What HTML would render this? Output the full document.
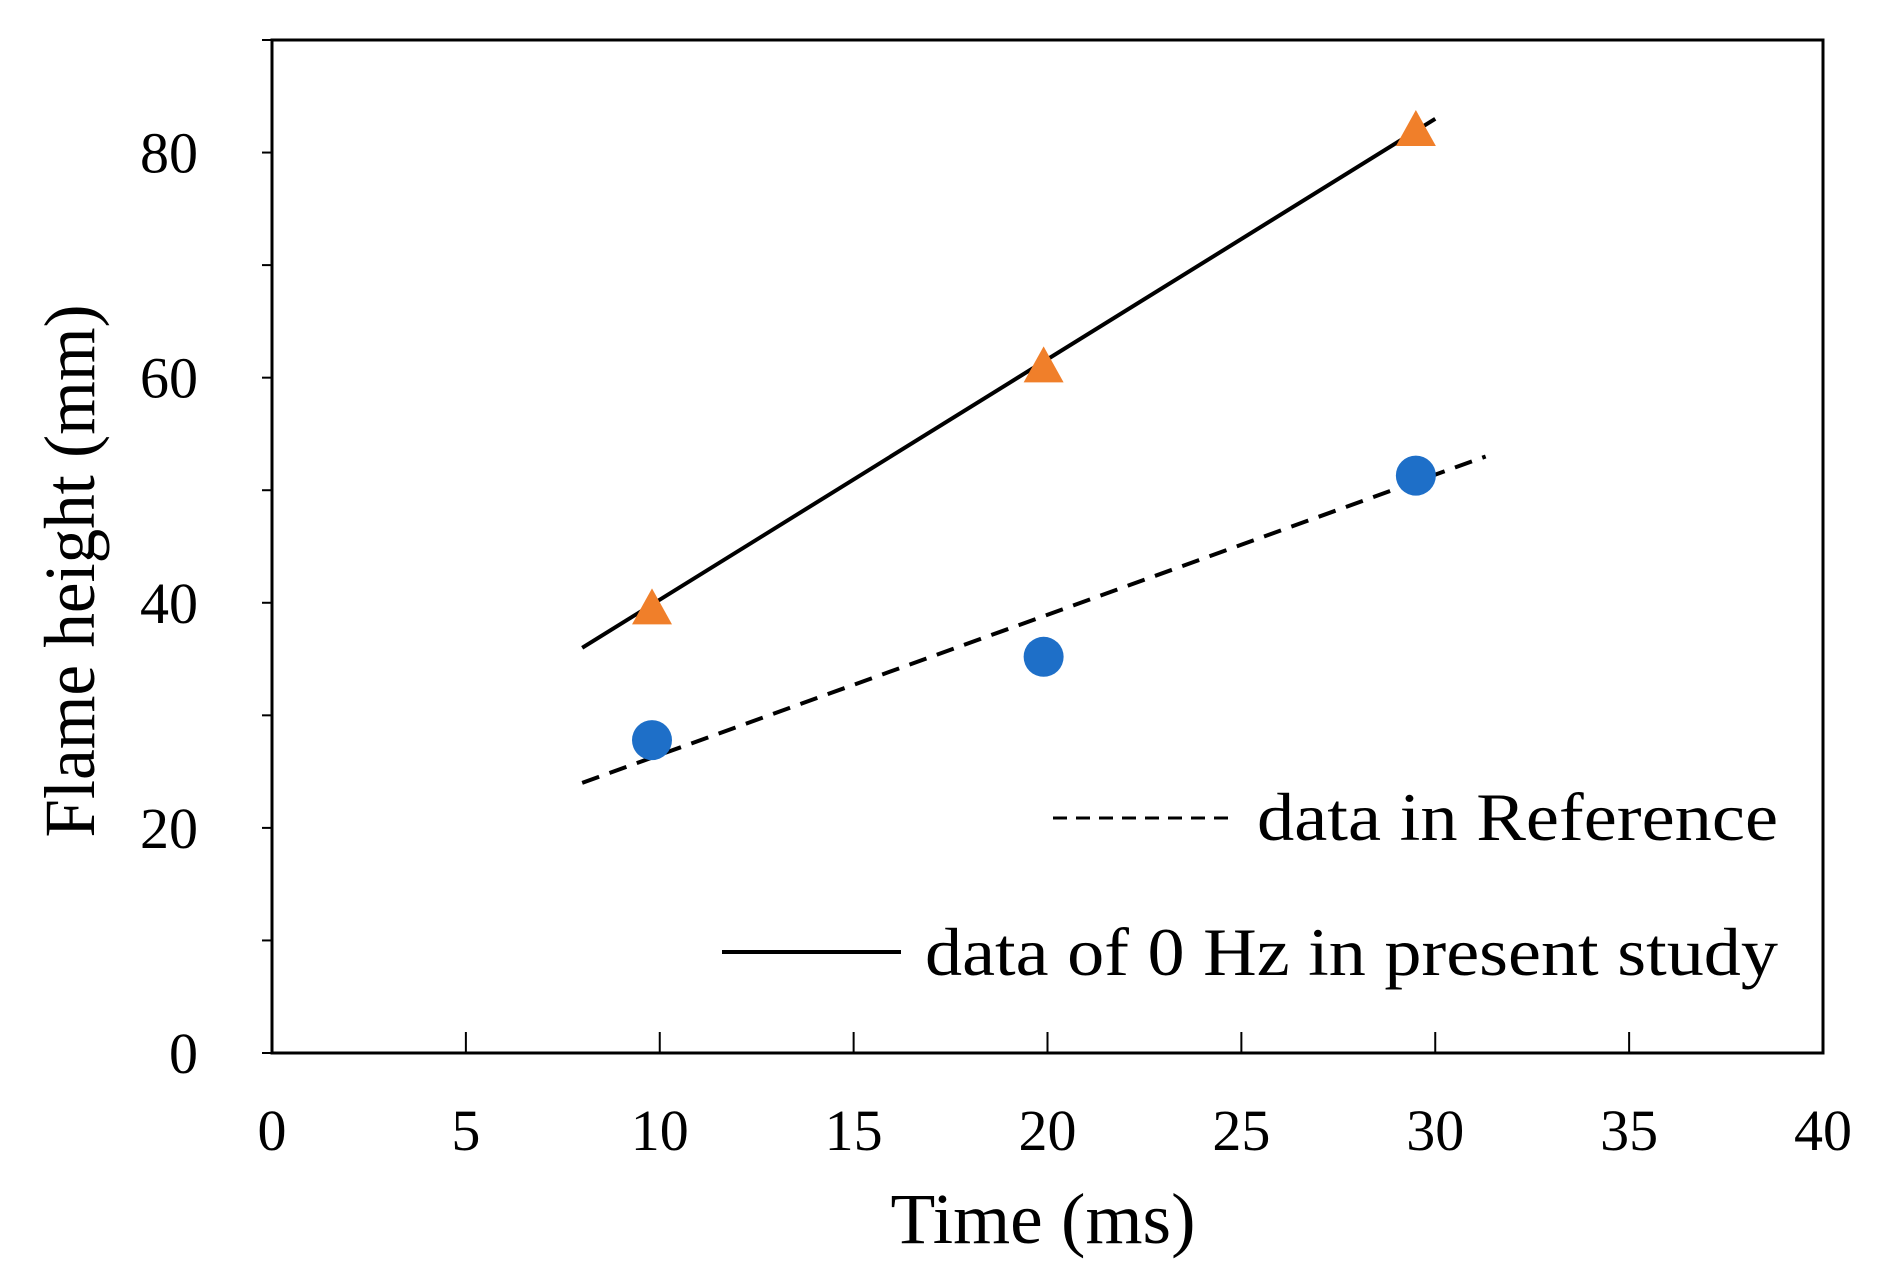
<!DOCTYPE html>
<html><head><meta charset="utf-8"><style>
html,body{margin:0;padding:0;background:#fff;}
svg{display:block;font-family:"Liberation Serif",serif;}
</style></head><body>
<svg id="chart" width="1877" height="1270" viewBox="0 0 1877 1270"></svg>
<script>
const xTicks=[0,5,10,15,20,25,30,35,40];
const yTicks=[0,10,20,30,40,50,60,70,80,90];
const yLabels=[0,20,40,60,80];
const presentX=[9.8,19.9,29.5];
const presentY=[39.5,61,82];
const refX=[9.8,19.9,29.5];
const refY=[27.8,35.2,51.3];
const solidFitX=[8,30];
const solidFitY=[36,83];
const dashedFitX=[8,31.3];
const dashedFitY=[24,53];

const L=272,R=1823,T=40,B=1053,XMAX=40,YMAX=90;
const sx=v=>L+(R-L)*v/XMAX;
const sy=v=>B-(B-T)*v/YMAX;
const NS="http://www.w3.org/2000/svg";
const svg=document.getElementById('chart');
function mk(tag,attrs,parent){const e=document.createElementNS(NS,tag);for(const k in attrs)e.setAttribute(k,attrs[k]);(parent||svg).appendChild(e);return e;}

const frame=mk('rect',{x:L,y:T,width:R-L,height:B-T,fill:'none',stroke:'#000','stroke-width':3});



xTicks.forEach(v=>{
  const t=mk('line',{x1:sx(v),x2:sx(v),y1:B,y2:B-21,stroke:'#000','stroke-width':2});
  
  
  const lb=mk('text',{x:sx(v),y:B+97,'font-size':58,'text-anchor':'middle'});
  lb.textContent=v;
  
  
});
yTicks.forEach(v=>{
  const t=mk('line',{x1:L-10,x2:L,y1:sy(v),y2:sy(v),stroke:'#000','stroke-width':2});
  
  
});
yLabels.forEach(v=>{
  const lb=mk('text',{x:L-74,y:sy(v)+20,'font-size':58,'text-anchor':'end'});
  lb.textContent=v;
  
  
});

const xt=mk('text',{x:1043,y:1243,'font-size':72,'text-anchor':'middle',textLength:305,lengthAdjust:'spacingAndGlyphs'});
xt.textContent='Time (ms)';


const yt=mk('text',{x:0,y:0,'font-size':72,'text-anchor':'middle',textLength:533,lengthAdjust:'spacingAndGlyphs',transform:'translate(94,571) rotate(-90)'});
yt.textContent='Flame height (mm)';



const sl=mk('line',{x1:sx(solidFitX[0]),y1:sy(solidFitY[0]),x2:sx(solidFitX[1]),y2:sy(solidFitY[1]),stroke:'#000','stroke-width':4});


const dl=mk('line',{x1:sx(dashedFitX[0]),y1:sy(dashedFitY[0]),x2:sx(dashedFitX[1]),y2:sy(dashedFitY[1]),stroke:'#000','stroke-width':4,'stroke-dasharray':'18 11'});



presentX.forEach((x,i)=>{
  const cx=sx(x),cy=sy(presentY[i]);
  const p=mk('polygon',{points:`${cx},${cy-20} ${cx+20},${cy+16} ${cx-20},${cy+16}`,fill:'#F07F2A'});
  
  
});
refX.forEach((x,i)=>{
  const c=mk('circle',{cx:sx(x),cy:sy(refY[i]),r:20,fill:'#1E6FC8'});
  
  
});

const lg1=mk('line',{x1:1053,x2:1233,y1:818,y2:818,stroke:'#000','stroke-width':3,'stroke-dasharray':'14 9'});


const lt1=mk('text',{x:1257,y:840,'font-size':68,textLength:521,lengthAdjust:'spacingAndGlyphs'});
lt1.textContent='data in Reference';


const lg2=mk('line',{x1:722,x2:901,y1:952,y2:952,stroke:'#000','stroke-width':4});


const lt2=mk('text',{x:925,y:975,'font-size':68,textLength:853,lengthAdjust:'spacingAndGlyphs'});
lt2.textContent='data of 0 Hz in present study';


</script>
</body></html>
